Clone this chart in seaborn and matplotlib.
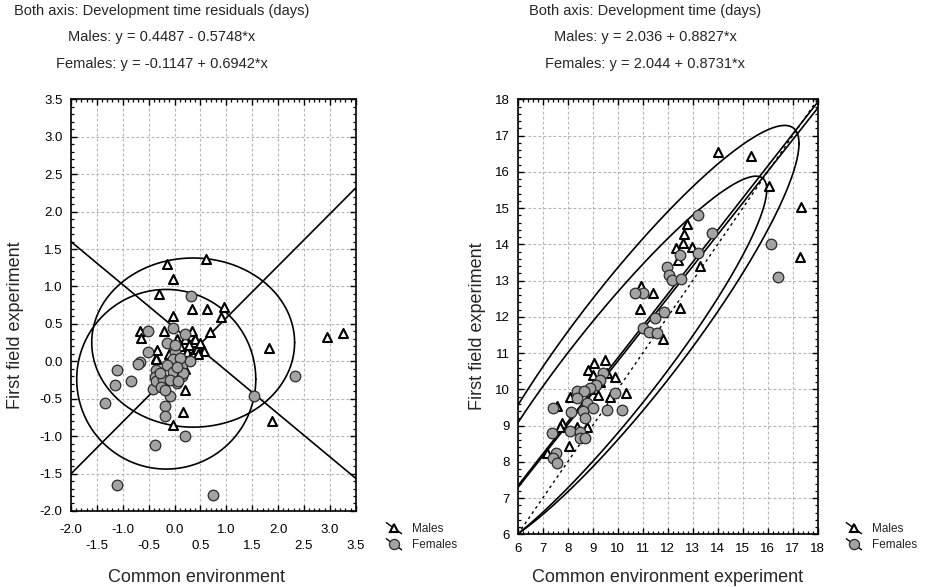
import numpy as np
import pandas as pd
import matplotlib
matplotlib.use("Agg")
import matplotlib.pyplot as plt
import seaborn as sns
from matplotlib.lines import Line2D
from matplotlib.legend_handler import HandlerBase
from matplotlib.ticker import MultipleLocator

# ---- residual panel (left) ----
resid_male_x = [0.61, -0.14, -0.03, -0.30, 0.33, 0.63, 0.95, 0.89, -0.03, -0.20,
                0.33, 0.68, 0.36, 0.57, 0.43, -0.35, 1.82, 2.95, 3.25, 1.89,
                0.21, 0.16, -0.03, -0.67, -0.64, -0.33, -0.36, 0.10, 0.20, 0.25,
                0.30, 0.15, 0.05, 0.40, 0.20, 0.28, 0.10, 0.50, 0.45, -0.10]
resid_male_y = [1.37, 1.30, 1.10, 0.90, 0.70, 0.70, 0.73, 0.59, 0.60, 0.41,
                0.40, 0.39, 0.26, 0.14, 0.16, 0.04, 0.18, 0.33, 0.38, -0.80,
                -0.38, -0.68, -0.85, 0.41, 0.31, 0.15, 0.03, 0.20, 0.30, 0.12,
                0.05, 0.05, 0.30, 0.30, -0.10, 0.22, -0.05, 0.25, 0.10, 0.10]
resid_female_x = [0.31, -0.51, -0.03, 0.20, -0.52, -0.67, -0.70, -1.12, -1.15, -0.84,
                  -1.34, -1.12, -0.37, 0.21, -0.19, -0.19, -0.09, -0.41, -0.15, 0.01,
                  -0.03, -0.15, -0.35, -0.38, -0.35, -0.22, -0.03, 0.14, 0.04, -0.09,
                  0.14, 0.30, -0.26, -0.19, 2.32, 1.54, 0.74, 0.01, 0.17, 0.07,
                  0.10, -0.28, 0.05]
resid_female_y = [0.87, 0.40, 0.45, 0.36, 0.12, -0.01, -0.03, -0.11, -0.32, -0.26,
                  -0.56, -1.65, -1.12, -1.00, -0.60, -0.73, -0.46, -0.37, 0.24, 0.13,
                  0.03, -0.05, -0.11, -0.21, -0.27, -0.23, -0.14, -0.20, -0.29, -0.25,
                  -0.05, 0.00, -0.34, -0.38, -0.19, -0.46, -1.79, 0.22, -0.15, -0.27,
                  0.05, -0.15, -0.08]

# ---- raw development time panel (right) ----
dev_male_x = [14.02, 15.32, 16.06, 17.34, 17.29, 12.78, 12.65, 12.60, 12.33, 12.42,
              12.96, 13.29, 12.49, 11.42, 10.93, 11.80, 10.89, 9.49, 9.05, 8.82,
              9.56, 9.89, 9.23, 8.09, 10.33, 7.58, 7.76, 7.69, 8.36, 8.78,
              8.04, 7.18, 9.00, 9.30, 8.90, 9.70]
dev_male_y = [16.55, 16.45, 15.61, 15.03, 13.66, 14.56, 14.28, 14.04, 13.89, 13.57,
              13.92, 13.40, 12.23, 12.65, 12.85, 11.38, 12.21, 10.81, 10.73, 10.53,
              10.46, 10.35, 9.84, 9.80, 9.91, 9.54, 9.08, 8.97, 8.97, 8.95,
              8.44, 8.25, 10.40, 10.20, 10.00, 9.80]
dev_female_x = [13.22, 13.76, 16.12, 16.42, 11.98, 12.06, 12.16, 12.52, 12.49, 13.22,
                11.85, 11.49, 11.02, 10.69, 11.00, 11.26, 11.56, 9.42, 9.29, 9.13,
                8.89, 8.36, 8.65, 8.36, 8.76, 9.56, 10.16, 9.89, 9.02, 8.62,
                8.12, 7.42, 7.36, 8.09, 8.49, 8.69, 8.49, 8.69, 7.53, 7.42, 7.58]
dev_female_y = [14.81, 14.30, 14.00, 13.11, 13.37, 13.15, 13.01, 13.03, 13.70, 13.75,
                12.14, 11.98, 12.65, 12.65, 11.68, 11.59, 11.55, 10.44, 10.26, 10.12,
                10.03, 9.96, 9.96, 9.75, 9.61, 9.43, 9.43, 9.89, 9.48, 9.41,
                9.38, 9.49, 8.79, 8.86, 8.81, 9.20, 8.65, 8.65, 8.23, 8.10, 7.96]

# regression coefficients (intercept, slope)
resid_fit = {"Males": (0.4487, -0.5748), "Females": (-0.1147, 0.6942)}
dev_fit = {"Males": (2.036, 0.8827), "Females": (2.044, 0.8731)}

# 95% normal ellipses: centre x, centre y, x half-extent, y half-extent, r
resid_ellipses = {"Males": (0.36, 0.25, 1.96, 1.13, 0.0),
                  "Females": (-0.16, -0.24, 1.73, 1.20, 0.0)}
dev_ellipses = {"Males": (10.5, 11.38, 6.75, 5.90, 0.915),
                "Females": (9.8, 10.58, 6.16, 5.30, 0.930)}

resid_titles = ["Both axis: Development time residuals (days)",
                "Males: y = 0.4487 - 0.5748*x",
                "Females: y = -0.1147 + 0.6942*x"]
dev_titles = ["Both axis: Development time (days)",
              "Males: y = 2.036 + 0.8827*x",
              "Females: y = 2.044 + 0.8731*x"]

sns.set_theme(style="white")
plt.rcParams["font.family"] = ["Liberation Sans", "DejaVu Sans"]

FILL_F = "#a3a3a3"
GRID = dict(color="#b4b4b4", linestyle=(0, (2.5, 2)), linewidth=0.8)

fig = plt.figure(figsize=(9.26, 5.87), dpi=100)
axL = fig.add_axes([0.0767, 0.1295, 0.3074, 0.7013])
axR = fig.add_axes([0.5591, 0.0898, 0.3240, 0.7410])


def style_axes(ax, lo, hi, major, minor, xpad, ypad):
    ax.set_xlim(lo[0], hi[0])
    ax.set_ylim(lo[1], hi[1])
    ax.xaxis.set_major_locator(MultipleLocator(major))
    ax.yaxis.set_major_locator(MultipleLocator(major))
    ax.xaxis.set_minor_locator(MultipleLocator(minor))
    ax.yaxis.set_minor_locator(MultipleLocator(minor))
    ax.grid(True, which="major", **GRID)
    ax.set_axisbelow(True)
    ax.tick_params(which="both", direction="in", top=True, right=True,
                   bottom=True, left=True, color="black", labelsize=9.5,
                   labelcolor="black")
    ax.tick_params(which="major", length=4, width=1.0)
    ax.tick_params(which="minor", length=2.5, width=0.9)
    ax.tick_params(axis="x", which="major", pad=xpad)
    ax.tick_params(axis="y", which="major", pad=ypad)
    for sp in ax.spines.values():
        sp.set_color("black")
        sp.set_linewidth(1.2)
    ax.set_xlabel("")
    ax.set_ylabel("")


def ellipse_outline(cx, cy, kx, ky, r, n=400):
    t = np.linspace(0, 2 * np.pi, n)
    phi = np.arccos(r)
    return cx + kx * np.cos(t), cy + ky * np.cos(t - phi)


def draw_panel(ax, mx, my, fx, fy, fits, ells, x0, x1):
    xs = np.array([x0, x1])
    for sex in ("Males", "Females"):
        a, b = fits[sex]
        sns.lineplot(x=xs, y=a + b * xs, ax=ax, color="black", linewidth=1.2,
                     zorder=2)
        ex, ey = ellipse_outline(*ells[sex])
        sns.lineplot(x=ex, y=ey, ax=ax, sort=False, estimator=None,
                     color="black", linewidth=1.2, zorder=2)
    males = pd.DataFrame({"x": mx, "y": my})
    females = pd.DataFrame({"x": fx, "y": fy})
    sns.scatterplot(data=males, x="x", y="y", ax=ax, marker="^", s=42,
                    color="white", edgecolor="black", linewidth=1.5, zorder=3)
    sns.scatterplot(data=females, x="x", y="y", ax=ax, marker="o", s=58,
                    color=FILL_F, edgecolor="#2a2a2a", linewidth=0.9, zorder=4)


# left panel
draw_panel(axL, resid_male_x, resid_male_y, resid_female_x, resid_female_y,
           resid_fit, resid_ellipses, -2.0, 3.5)
style_axes(axL, (-2.0, -2.0), (3.5, 3.5), 0.5, 0.1, xpad=9.5, ypad=6)
ticks = np.arange(-2.0, 3.51, 0.5)
axL.set_xticks(ticks)
axL.set_xticklabels([f"{t:.1f}" if abs(t - round(t)) < 1e-9 else f"\n{t:.1f}"
                     for t in ticks])
for lab in axL.get_xticklabels():
    lab.set_linespacing(1.38)
axL.set_yticks(np.arange(-2.0, 3.51, 0.5))
axL.set_yticklabels([f"{t:.1f}" for t in np.arange(-2.0, 3.51, 0.5)])

# right panel
draw_panel(axR, dev_male_x, dev_male_y, dev_female_x, dev_female_y,
           dev_fit, dev_ellipses, 6.0, 18.0)
diag = np.array([6.0, 18.0])
axR.plot(diag, diag, color="black", linewidth=1.0, linestyle=(0, (2, 2.5)),
         zorder=2)
style_axes(axR, (6, 6), (18, 18), 1, 0.2, xpad=6.5, ypad=5.5)
axR.set_xticks(np.arange(6, 19, 1))
axR.set_yticks(np.arange(6, 19, 1))

# header lines above each panel
for i, line in enumerate(resid_titles):
    fig.text(162 / 926, 1 - (11 + 26.5 * i) / 587, line, ha="center",
             va="center", fontsize=10.5)
for i, line in enumerate(dev_titles):
    fig.text(645 / 926, 1 - (11 + 26.5 * i) / 587, line, ha="center",
             va="center", fontsize=10.5)

# axis titles
fig.text(196 / 926, 1 - 578 / 587, "Common environment", ha="center",
         va="center", fontsize=13)
fig.text(668 / 926, 1 - 578 / 587, "Common environment experiment",
         ha="center", va="center", fontsize=13)
fig.text(16 / 926, 1 - 325 / 587, "First field experiment", ha="center",
         va="center", rotation=90, fontsize=13)
fig.text(477 / 926, 1 - 326 / 587, "First field experiment", ha="center",
         va="center", rotation=90, fontsize=13)


class DiagonalKey(HandlerBase):
    """Legend key: a short diagonal line with the series marker on it."""

    def create_artists(self, legend, orig_handle, xdescent, ydescent, width,
                       height, fontsize, trans):
        x0, x1 = -xdescent, -xdescent + width
        y0, y1 = -ydescent + height + 1, -ydescent - 1
        line = Line2D([x0, x1], [y0, y1], color="black", linewidth=1.0,
                      transform=trans)
        mark = Line2D([(x0 + x1) / 2], [(y0 + y1) / 2],
                      marker=orig_handle.get_marker(),
                      markersize=orig_handle.get_markersize(),
                      markerfacecolor=orig_handle.get_markerfacecolor(),
                      markeredgecolor=orig_handle.get_markeredgecolor(),
                      markeredgewidth=orig_handle.get_markeredgewidth(),
                      linestyle="none", transform=trans)
        return [line, mark]


key_m = Line2D([], [], marker="^", markersize=6.3, markerfacecolor="white",
               markeredgecolor="black", markeredgewidth=1.5, linestyle="none")
key_f = Line2D([], [], marker="o", markersize=7.3, markerfacecolor=FILL_F,
               markeredgecolor="#2a2a2a", markeredgewidth=0.9, linestyle="none")

for xpos in (378, 838):
    fig.legend([key_m, key_f], ["Males", "Females"],
               handler_map={Line2D: DiagonalKey()},
               loc="upper left", bbox_to_anchor=(xpos / 926, 1 - 515 / 587),
               frameon=False, fontsize=8.5, handlelength=1.3,
               handletextpad=0.9, labelspacing=0.35, borderpad=0.2)

fig.savefig("out.png", dpi=100, facecolor="white")
